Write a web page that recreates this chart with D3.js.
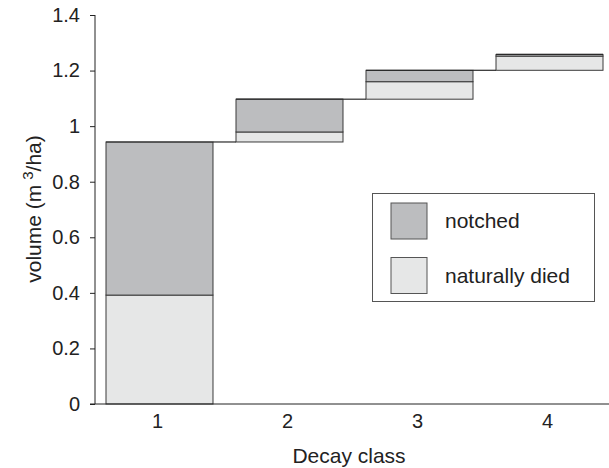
<!DOCTYPE html>
<html>
<head>
<meta charset="utf-8">
<script src="https://cdn.jsdelivr.net/npm/d3@7/dist/d3.min.js"></script>
<style>
  html, body { margin: 0; padding: 0; background: #fff; }
  svg { display: block; font-family: "Liberation Sans", Arial, sans-serif; }
</style>
</head>
<body>
<svg id="chart" width="609" height="468"></svg>
<script>
const categories = ["1", "2", "3", "4"];
const naturallyDied = [0.392, 0.036, 0.063, 0.051];
const notched = [0.551, 0.118, 0.041, 0.006];
const yTicks = [0, 0.2, 0.4, 0.6, 0.8, 1, 1.2, 1.4];
const seriesNames = ["notched", "naturally died"];
const seriesColors = ["#bcbdbf", "#e6e7e7"];

const svg = d3.select("#chart");
const fontSize = 20;
const bigFont = 21;
const axisX = 95;

const x = d3.scaleBand().domain(categories).range([106, 603]).paddingInner(0.177).paddingOuter(0);
const y = d3.scaleLinear().domain([0, 1.4]).range([404, 15]);

// waterfall cumulative
let base = 0;
const segs = [];
const totals = [];
categories.forEach((c, i) => {
  const b0 = base, b1 = b0 + naturallyDied[i], b2 = b1 + notched[i];
  segs.push({c, y0: b0, y1: b1, s: 1});
  segs.push({c, y0: b1, y1: b2, s: 0});
  totals.push(b2);
  base = b2;
});

const g = svg.append("g");
g.selectAll("rect.seg").data(segs).enter().append("rect")
  .attr("class", "seg")
  .attr("x", d => x(d.c))
  .attr("width", x.bandwidth())
  .attr("y", d => y(d.y1))
  .attr("height", d => Math.max(0, y(d.y0) - y(d.y1)))
  .attr("fill", d => seriesColors[d.s])
  .attr("stroke", "#3a3a3a")
  .attr("stroke-width", 1);

// top edges
g.selectAll("line.top").data(categories).enter().append("line")
  .attr("x1", d => x(d)).attr("x2", d => x(d) + x.bandwidth())
  .attr("y1", (d, i) => y(totals[i])).attr("y2", (d, i) => y(totals[i]))
  .attr("stroke", "#2a2a2a").attr("stroke-width", 1.2);

// connectors
const conns = categories.slice(0, -1).map((c, i) => ({from: c, to: categories[i + 1], v: totals[i]}));
g.selectAll("line.conn").data(conns).enter().append("line")
  .attr("x1", d => x(d.from) + x.bandwidth())
  .attr("x2", d => x(d.to))
  .attr("y1", d => y(d.v)).attr("y2", d => y(d.v))
  .attr("stroke", "#2a2a2a").attr("stroke-width", 1.2);

// y axis
const yAxis = svg.append("g").attr("transform", `translate(${axisX},0)`)
  .call(d3.axisLeft(y).tickValues(yTicks).tickFormat(d3.format("~g")).tickSize(5).tickPadding(10));
yAxis.select(".domain").attr("d", `M0,${y(1.4)}V${y(0)}`).attr("stroke", "#222");
yAxis.selectAll(".tick line").attr("stroke", "#222");
yAxis.selectAll(".tick text").attr("font-size", fontSize).attr("fill", "#222")
  .attr("font-family", "Liberation Sans, Arial, sans-serif");

// x axis
const xAxis = svg.append("g").attr("transform", `translate(0,${y(0)})`)
  .call(d3.axisBottom(x).tickSize(0).tickPadding(10));
xAxis.select(".domain").attr("d", `M90,0H609`).attr("stroke", "#222");
xAxis.selectAll(".tick text").attr("font-size", fontSize).attr("fill", "#222")
  .attr("font-family", "Liberation Sans, Arial, sans-serif").attr("dy", "0.72em").attr("dx", -2);

// axis titles
svg.append("text").attr("x", 349).attr("y", 463).attr("text-anchor", "middle")
  .attr("font-size", bigFont).attr("fill", "#222").text("Decay class");

const yt = svg.append("text")
  .attr("transform", "translate(41,209) rotate(-90)")
  .attr("text-anchor", "middle").attr("font-size", bigFont).attr("fill", "#222");
yt.append("tspan").text("volume (m");
yt.append("tspan").attr("dx", 5).attr("dy", -8).attr("font-size", 15).text("3");
yt.append("tspan").attr("dy", 8).text("/ha)");

// legend
const lg = svg.append("g");
lg.append("rect").attr("x", 372.5).attr("y", 193.5).attr("width", 222).attr("height", 108)
  .attr("fill", "#fff").attr("stroke", "#555").attr("stroke-width", 1);
const items = lg.selectAll("g.item").data(seriesNames).enter().append("g")
  .attr("transform", (d, i) => `translate(391,${203 + i * 54.5})`);
items.append("rect").attr("width", 36).attr("height", 36)
  .attr("fill", (d, i) => seriesColors[i]).attr("stroke", "#555");
items.append("text").attr("x", 54).attr("y", 25).attr("font-size", bigFont).attr("fill", "#222").text(d => d);
</script>
</body>
</html>
